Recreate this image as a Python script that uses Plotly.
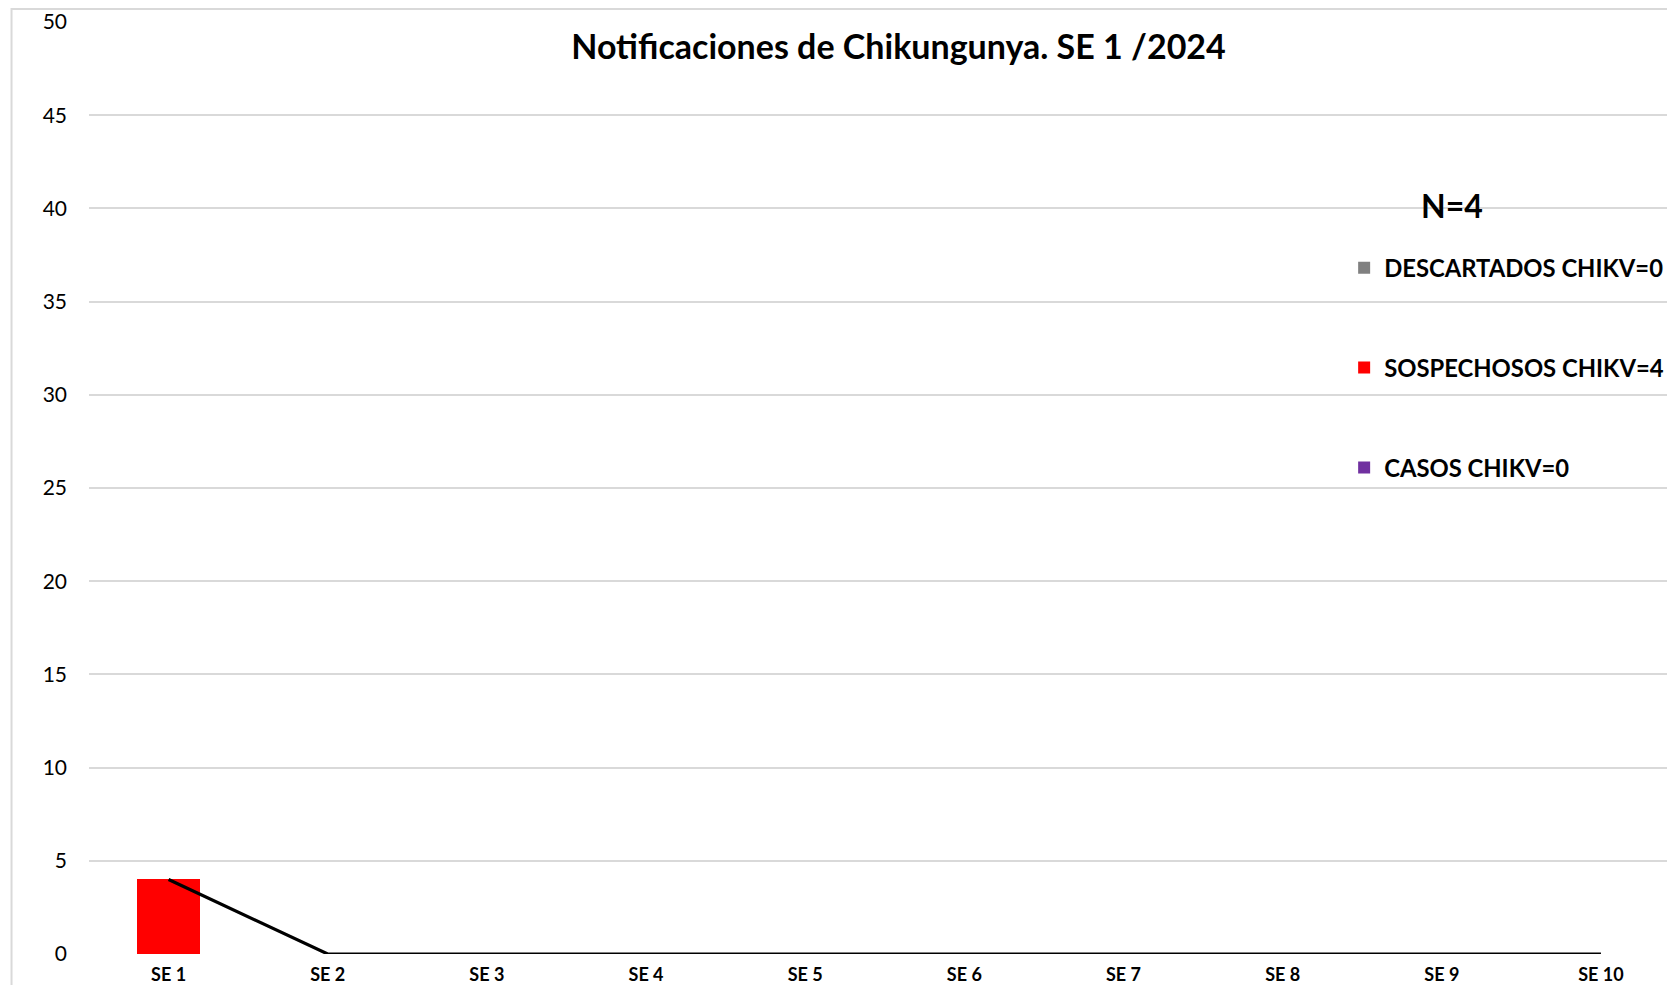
import plotly.graph_objects as go

semanas = ["SE 1", "SE 2", "SE 3", "SE 4", "SE 5", "SE 6", "SE 7", "SE 8", "SE 9", "SE 10"]
descartados = [0, 0, 0, 0, 0, 0, 0, 0, 0, 0]
sospechosos = [4, 0, 0, 0, 0, 0, 0, 0, 0, 0]
casos = [0, 0, 0, 0, 0, 0, 0, 0, 0, 0]
total = [4, 0, 0, 0, 0, 0, 0, 0, 0, 0]
y_ticks = [0, 5, 10, 15, 20, 25, 30, 35, 40, 45, 50]

FONT = "Lato"
GRAY = "#808080"
RED = "#FF0000"
PURPLE = "#7030A0"

fig = go.Figure()
fig.add_trace(go.Bar(x=semanas, y=descartados, name="<b>DESCARTADOS CHIKV=0</b>",
                     marker=dict(color=GRAY, line=dict(width=0)),
                     width=0.40, legendgroup="a"))
fig.add_trace(go.Bar(x=semanas, y=sospechosos, name="<b>SOSPECHOSOS CHIKV=4</b>",
                     marker=dict(color=RED, line=dict(width=0)),
                     width=0.40, legendgroup="b"))
fig.add_trace(go.Bar(x=semanas, y=casos, name="<b>CASOS CHIKV=0</b>",
                     marker=dict(color=PURPLE, line=dict(width=0)),
                     width=0.40, legendgroup="c"))
fig.add_trace(go.Scatter(x=semanas, y=total, mode="lines", showlegend=False,
                         line=dict(color="#000000", width=3.2)))

fig.update_layout(
    width=1659, height=977,
    margin=dict(l=80.5, r=0, t=14, b=31, autoexpand=False),
    barmode="stack",
    plot_bgcolor="white", paper_bgcolor="white",
    font=dict(family=FONT, color="#000000"),
    title=dict(text="<b>Notificaciones de Chikungunya. SE 1 /2024</b>",
               x=0.513, xref="paper", xanchor="center",
               y=1 - 39 / 977, yref="container", yanchor="middle",
               font=dict(family=FONT, size=34, color="#000000")),
    xaxis=dict(type="category", range=[-0.5, 9.415], showgrid=False, showline=False,
               zeroline=False, ticks="", ticklabelstandoff=8, automargin=False,
               tickfont=dict(family=FONT, size=18, color="#000000"),
               tickprefix="<b>", ticksuffix="</b>"),
    yaxis=dict(range=[0, 50], tickvals=y_ticks, showgrid=True, gridcolor="#D9D9D9",
               gridwidth=1.5, zeroline=False, showline=False, ticks="",
               ticklabelstandoff=21, automargin=False,
               tickfont=dict(family=FONT, size=21, color="#000000")),
    legend=dict(x=0.7954, xanchor="left", y=0.760, yanchor="top",
                traceorder="grouped", tracegroupgap=66,
                font=dict(family=FONT, size=23.8, color="#000000"),
                bgcolor="rgba(0,0,0,0)"),
    annotations=[dict(text="<b>N=4</b>", x=0.864, xref="paper", xanchor="center",
                      y=0.8026, yref="paper", yanchor="middle", showarrow=False,
                      font=dict(family=FONT, size=32, color="#000000"))],
    shapes=[dict(type="rect", xref="paper", yref="paper", x0=-0.0491, x1=1.2,
                 y0=-0.2, y1=1.0139, line=dict(color="#D9D9D9", width=2),
                 fillcolor="rgba(0,0,0,0)", layer="below")],
)

fig.write_html("out.html")
